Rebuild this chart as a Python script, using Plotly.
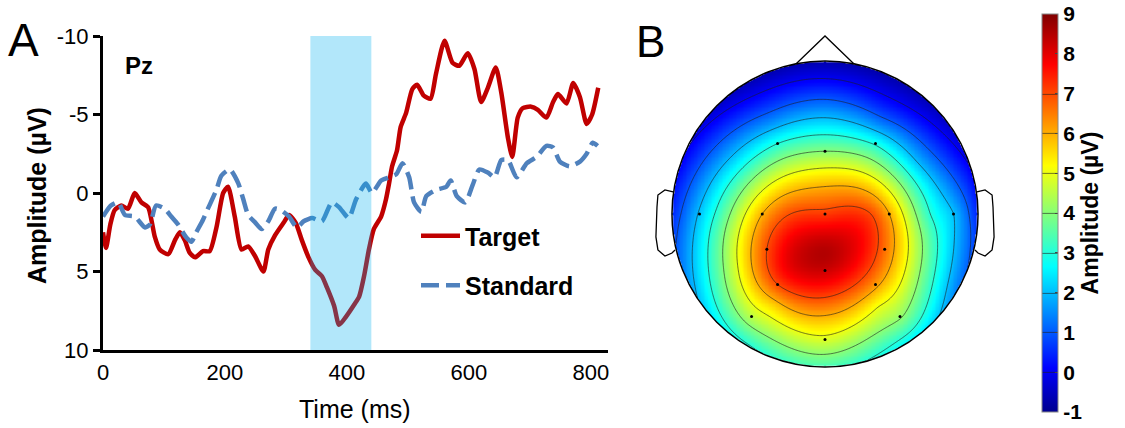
import numpy as np
import plotly.graph_objects as go

# ---------------- Panel A: ERP at Pz ----------------
target_t = [0, 5, 12, 19, 30, 41, 52, 63, 74, 85, 93, 107, 118, 126, 134, 142, 151, 164, 175, 186,
            197, 205, 216, 227, 238, 249, 263, 271, 282, 296, 305, 316, 326, 337, 348, 359, 367, 379,
            387, 398, 412, 420, 428, 436, 444, 456, 464, 469, 474, 482, 488, 497, 507, 515, 526, 537,
            546, 560, 573, 584, 598, 609, 620, 631, 644, 653, 664, 671, 680, 688, 702, 713, 727, 738,
            746, 760, 771, 782, 793, 802, 812]
target_v = [2.5, 3.5, 2.0, 1.1, 0.8, 1.0, 0.0, 0.6, 0.9, 2.8, 3.6, 3.9, 3.0, 2.5, 3.0, 3.8, 4.1, 3.7, 3.7, 2.2,
            0.0, -0.4, 1.5, 3.6, 3.4, 4.0, 5.0, 3.6, 2.7, 1.9, 1.4, 1.9, 3.0, 4.1, 4.9, 5.3, 6.0, 7.2,
            8.4, 7.9, 7.1, 6.6, 5.3, 3.6, 2.3, 1.5, 0.4, -0.6, -1.7, -2.7, -4.2, -5.1, -6.6, -6.9, -6.2, -6.0,
            -7.6, -9.7, -8.3, -8.1, -8.9, -7.9, -5.8, -6.7, -8.0, -6.4, -3.5, -2.3, -4.8, -5.4, -5.5, -5.3, -4.8, -5.8,
            -6.3, -5.7, -7.0, -6.1, -4.4, -5.0, -6.7]

standard_t = [0, 13, 25, 36, 52, 69, 77, 87, 101, 112, 123, 136, 145, 153, 164, 172, 186, 194, 208, 222,
              230, 238, 250, 260, 271, 282, 292, 305, 318, 329, 343, 359, 375, 387, 403, 415, 431, 441, 456,
              469, 481, 491, 502, 510, 522, 530, 546, 563, 570, 580, 594, 606, 617, 631, 642, 653, 664, 678,
              695, 711, 727, 738, 749, 765, 782, 793, 803, 811]
standard_v = [1.5, 0.8, 0.6, 1.4, 1.5, 2.2, 2.0, 0.8, 1.0, 1.5, 2.0, 2.8, 3.1, 2.5, 1.7, 1.0, -0.2, -1.1, -1.5, -0.6,
              0.4, 1.4, 1.9, 2.3, 1.8, 1.0, 1.1, 1.5, 2.2, 1.8, 1.6, 1.8, 0.6, 0.9, 1.6, 0.4, -0.6, 0.0, -0.8,
              -1.0, -1.2, -1.9, -1.0, 0.6, 1.2, 0.2, -0.2, -0.4, -0.8, 0.2, 0.6, -0.5, -1.5, -1.3, -1.0, -2.1, -2.1, -1.0,
              -1.9, -2.3, -3.0, -2.9, -2.0, -1.7, -2.0, -2.5, -3.2, -3.0]

window_start, window_end = 340, 440
x_ticks = [0, 200, 400, 600, 800]
y_ticks = [-10, -5, 0, 5, 10]

# ---------------- Panel B: scalp topography ----------------
elec_names = ["F3", "Fz", "F4", "T7", "C3", "Cz", "C4", "T8", "CP3", "CP4",
              "P3", "Pz", "P4", "P7", "P8", "Oz"]
elec_x = [-0.31, 0.00, 0.33, -0.82, -0.41, 0.00, 0.42, 0.84, -0.38, 0.39,
          -0.31, 0.00, 0.33, -0.48, 0.49, 0.00]
elec_y = [0.46, 0.41, 0.46, 0.00, 0.00, 0.00, 0.00, 0.00, -0.23, -0.23,
          -0.46, -0.37, -0.46, -0.67, -0.67, -0.82]
elec_v = [3.0, 4.0, 2.9, 2.1, 6.0, 7.2, 6.0, 2.0, 7.0, 6.6,
          7.0, 8.2, 6.2, 4.5, 4.1, 4.8]

# additional map readings (peak, inner tilt, ring r=0.7, rim r=1.0), not electrodes
samp_x = [0.0, -0.25, 0.22, 0.30, -0.30,
          0.0, 0.35, 0.606, 0.7, 0.606, 0.35, 0.0, -0.35, -0.606, -0.7, -0.606, -0.35,
          0.0, 0.5, 0.866, 1.0, 0.866, 0.5, 0.0, -0.5, -0.866, -1.0, -0.866, -0.5]
samp_y = [-0.255, 0.05, -0.50, 0.0, -0.38,
          0.7, 0.606, 0.35, 0.0, -0.35, -0.606, -0.7, -0.606, -0.35, 0.0, 0.35, 0.606,
          1.0, 0.866, 0.5, 0.0, -0.5, -0.866, -1.0, -0.866, -0.5, 0.0, 0.5, 0.866]
samp_v = [8.5, 6.6, 6.6, 7.0, 7.5,
          1.4, 1.3, 1.9, 2.9, 4.2, 5.0, 5.7, 5.5, 4.6, 3.2, 2.2, 1.5,
          -0.7, -0.7, -0.3, 0.4, 1.3, 2.6, 3.3, 2.9, 1.8, 0.5, -0.1, -0.6]

cbar_ticks = list(range(-1, 10))

# head outline geometry (head radius = 1)
nose_x = [-0.19, 0.0, 0.19]
nose_y = [0.98, 1.163, 0.98]
ear_x = [-0.993, -1.046, -1.092, -1.098, -1.105, -1.092, -1.046, -1.0, -0.98]
ear_y = [0.144, 0.157, 0.124, 0.046, -0.150, -0.235, -0.275, -0.255, -0.235]


def biharmonic(px, py, pv, gx, gy):
    P = np.column_stack([px, py])

    def green(r):
        out = np.zeros_like(r)
        m = r > 0
        out[m] = r[m] ** 2 * (np.log(r[m]) - 1.0)
        return out

    d = np.linalg.norm(P[:, None, :] - P[None, :, :], axis=2)
    w = np.linalg.solve(green(d), np.asarray(pv, float))
    G = np.column_stack([gx.ravel(), gy.ravel()])
    dg = np.linalg.norm(G[:, None, :] - P[None, :, :], axis=2)
    return (green(dg) @ w).reshape(gx.shape)


all_x = elec_x + samp_x
all_y = elec_y + samp_y
all_v = elec_v + samp_v
grid = np.linspace(-1, 1, 221)
GX, GY = np.meshgrid(grid, grid)
Z = biharmonic(all_x, all_y, all_v, GX, GY)
Z[np.hypot(GX, GY) > 1.0] = np.nan

jet = [[0.0, "rgb(0,0,143)"], [0.111, "rgb(0,0,255)"], [0.365, "rgb(0,255,255)"],
       [0.619, "rgb(255,255,0)"], [0.873, "rgb(255,0,0)"], [1.0, "rgb(128,0,0)"]]

FONT = "Liberation Sans, Arial, sans-serif"
W, H = 1125, 428


def fx(px):
    return px / W


def fy(py):
    return 1 - py / H


cb_vals = [v + (0.002 if v == cbar_ticks[0] else -0.002 if v == cbar_ticks[-1] else 0) for v in cbar_ticks]
cb_text = [str(v) for v in cbar_ticks]

fig = go.Figure()

fig.add_trace(go.Scatter(x=target_t, y=target_v, mode="lines", name="Target",
                         line=dict(color="#C00000", width=4.5, shape="spline", smoothing=0.6),
                         legendgroup="a", xaxis="x", yaxis="y"))
fig.add_trace(go.Scatter(x=standard_t, y=standard_v, mode="lines", name="Standard",
                         line=dict(color="#4F81BD", width=4.5, dash="18px,7px", shape="spline", smoothing=0.6),
                         legendgroup="b", xaxis="x", yaxis="y"))

fig.add_trace(go.Contour(x=grid, y=grid, z=Z, colorscale=jet, zmin=-1, zmax=9, zauto=False,
                         connectgaps=False, showlegend=False, hoverinfo="skip",
                         contours=dict(start=0, end=7, size=1, coloring="heatmap", showlines=True),
                         line=dict(color="rgba(30,30,30,0.75)", width=0.8),
                         colorbar=dict(x=fx(1042), xanchor="left", y=fy(213), yanchor="middle",
                                       thickness=16, thicknessmode="pixels", len=398, lenmode="pixels",
                                       outlinewidth=1, outlinecolor="#888", xpad=0, ypad=0,
                                       tickmode="array", tickvals=cb_vals, ticktext=cb_text,
                                       ticks="inside", ticklen=3, tickcolor="#444",
                                       tickfont=dict(family=FONT, size=21, color="black", weight="bold"),
                                       title=dict(text="Amplitude (µV)", side="right",
                                                  font=dict(family=FONT, size=23, color="black", weight="bold"))),
                         xaxis="x2", yaxis="y2"))

fig.add_trace(go.Scatter(x=elec_x, y=elec_y, mode="markers", text=elec_names, showlegend=False,
                         marker=dict(color="black", size=3), xaxis="x2", yaxis="y2", hoverinfo="text"))
fig.add_trace(go.Scatter(x=nose_x, y=nose_y, mode="lines", showlegend=False, hoverinfo="skip",
                         line=dict(color="black", width=1.3), xaxis="x2", yaxis="y2"))
fig.add_trace(go.Scatter(x=ear_x, y=ear_y, mode="lines", showlegend=False, hoverinfo="skip",
                         line=dict(color="black", width=1.3), xaxis="x2", yaxis="y2"))
fig.add_trace(go.Scatter(x=[-v for v in ear_x], y=ear_y, mode="lines", showlegend=False, hoverinfo="skip",
                         line=dict(color="black", width=1.3), xaxis="x2", yaxis="y2"))

fig.add_shape(type="rect", xref="x", yref="y", x0=window_start, x1=window_end, y0=-10, y1=10,
              fillcolor="rgba(0,176,240,0.30)", line=dict(width=0), layer="above")
fig.add_shape(type="circle", xref="x2", yref="y2", x0=-1, x1=1, y0=-1, y1=1,
              line=dict(color="black", width=1.5), layer="above")

fig.update_layout(
    width=W, height=H, margin=dict(l=0, r=0, t=0, b=0, autoexpand=False),
    paper_bgcolor="white", plot_bgcolor="white",
    font=dict(family=FONT, color="black"),
    xaxis=dict(domain=[fx(103), fx(608)], range=[0, 828], tickvals=x_ticks, ticks="", ticklen=0,
               showline=True, linecolor="black", linewidth=3, showgrid=False, zeroline=False,
               tickfont=dict(size=22), ticklabelstandoff=1, anchor="y"),
    yaxis=dict(domain=[fy(350), fy(36)], range=[10, -10], tickvals=y_ticks,
               ticktext=[str(v) for v in y_ticks], ticks="outside",
               ticklen=7, tickwidth=3, tickcolor="black", showline=True, linecolor="black", linewidth=3,
               showgrid=False, zeroline=False, tickfont=dict(size=22), anchor="x"),
    xaxis2=dict(domain=[fx(655), fx(995)], range=[-1.111, 1.111], visible=False, anchor="y2"),
    yaxis2=dict(domain=[fy(403), fy(25)], range=[-1.235, 1.235], visible=False, anchor="x2"),
    legend=dict(x=fx(416), y=fy(213), xanchor="left", yanchor="top", bgcolor="rgba(0,0,0,0)",
                itemwidth=39,
                font=dict(family=FONT, size=25, color="black", weight="bold"), tracegroupgap=14),
    annotations=[
        dict(text="A", x=fx(6), y=fy(40), xref="paper", yref="paper", xanchor="left", yanchor="middle",
             showarrow=False, font=dict(size=46)),
        dict(text="B", x=fx(634), y=fy(41), xref="paper", yref="paper", xanchor="left", yanchor="middle",
             showarrow=False, font=dict(size=44)),
        dict(text="<b>Pz</b>", x=33, y=-8.1, xref="x", yref="y", xanchor="left", yanchor="middle",
             showarrow=False, font=dict(size=24)),
        dict(text="<b>Amplitude (µV)</b>", x=fx(37), y=fy(196), xref="paper", yref="paper",
             xanchor="center", yanchor="middle",
             textangle=-90, showarrow=False, font=dict(size=25)),
        dict(text="Time (ms)", x=fx(355), y=fy(409), xref="paper", yref="paper",
             xanchor="center", yanchor="middle",
             showarrow=False, font=dict(size=25)),
    ],
)

fig.write_html("out.html", config={"displayModeBar": False},
               post_script="document.body.style.margin='0px';")
